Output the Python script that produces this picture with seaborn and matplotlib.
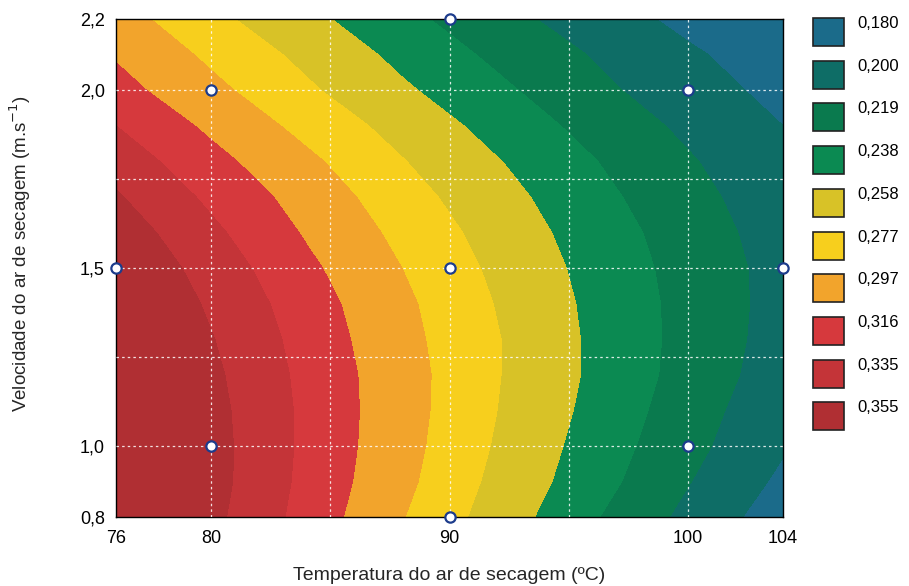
import matplotlib
matplotlib.use("Agg")
import matplotlib.pyplot as plt
import numpy as np
import pandas as pd
import seaborn as sns
from matplotlib.patches import Rectangle
from matplotlib.ticker import FixedLocator, MultipleLocator, FuncFormatter

temperatura = [76, 80, 84, 88, 92, 96, 100, 104]
velocidade = [0.8, 0.9, 1.0, 1.1, 1.2, 1.3, 1.4, 1.5, 1.6, 1.7, 1.8, 1.9, 2.0, 2.1, 2.2]
z_v08 = [0.373, 0.340, 0.309, 0.278, 0.249, 0.221, 0.195, 0.169]
z_v09 = [0.374, 0.342, 0.311, 0.282, 0.253, 0.227, 0.201, 0.176]
z_v10 = [0.373, 0.342, 0.312, 0.284, 0.256, 0.230, 0.206, 0.182]
z_v11 = [0.371, 0.341, 0.312, 0.285, 0.258, 0.233, 0.209, 0.186]
z_v12 = [0.369, 0.339, 0.311, 0.285, 0.259, 0.235, 0.212, 0.190]
z_v13 = [0.365, 0.336, 0.309, 0.283, 0.259, 0.235, 0.213, 0.192]
z_v14 = [0.359, 0.332, 0.306, 0.281, 0.257, 0.234, 0.213, 0.193]
z_v15 = [0.353, 0.327, 0.301, 0.277, 0.254, 0.232, 0.212, 0.193]
z_v16 = [0.346, 0.320, 0.295, 0.272, 0.250, 0.229, 0.210, 0.191]
z_v17 = [0.337, 0.312, 0.289, 0.266, 0.245, 0.225, 0.206, 0.189]
z_v18 = [0.327, 0.303, 0.281, 0.259, 0.239, 0.220, 0.202, 0.185]
z_v19 = [0.316, 0.293, 0.271, 0.251, 0.231, 0.213, 0.196, 0.180]
z_v20 = [0.304, 0.282, 0.261, 0.241, 0.223, 0.205, 0.189, 0.174]
z_v21 = [0.295, 0.273, 0.253, 0.233, 0.215, 0.199, 0.183, 0.169]
z_v22 = [0.285, 0.263, 0.243, 0.224, 0.207, 0.190, 0.175, 0.161]

# niveis da legenda e cores
niveis = [0.180, 0.200, 0.219, 0.238, 0.258, 0.277, 0.297, 0.316, 0.335, 0.355]
cores = ['#1b6b8a', '#0e6d66', '#0a7a4e', '#0b8a52', '#d8c227',
         '#f7cf1d', '#f2a42c', '#d6393d', '#c43438', '#b02f33']

# pontos experimentais do delineamento
pontos_temp = [80, 80, 100, 100, 76, 104, 90, 90, 90]
pontos_vel = [1.0, 2.0, 1.0, 2.0, 1.5, 1.5, 0.8, 2.2, 1.5]

grade_x = [80, 85, 90, 95, 100]
grade_y = [1.0, 1.25, 1.5, 1.75, 2.0]

sns.set_theme(style="white")
plt.rcParams['font.family'] = ['Liberation Sans', 'DejaVu Sans']

Z = np.array([z_v08, z_v09, z_v10, z_v11, z_v12, z_v13, z_v14, z_v15,
              z_v16, z_v17, z_v18, z_v19, z_v20, z_v21, z_v22])
X, Y = np.meshgrid(temperatura, velocidade)

fig = plt.figure(figsize=(9.09, 5.86), dpi=100)
ax = fig.add_axes([0.1276, 0.1177, 0.7338, 0.8499])

limites = [0.0] + niveis[:-1] + [1.0]
ax.contourf(X, Y, Z, levels=limites, colors=cores)

for gx in grade_x:
    ax.axvline(gx, color='white', lw=0.9, ls=(0, (2, 2.5)), alpha=0.85, zorder=3)
for gy in grade_y:
    ax.axhline(gy, color='white', lw=0.9, ls=(0, (2, 2.5)), alpha=0.85, zorder=3)

pts = pd.DataFrame({'temp': pontos_temp, 'vel': pontos_vel})
sns.scatterplot(data=pts, x='temp', y='vel', ax=ax, s=55, color='white',
                edgecolor='#1d3c8c', linewidth=1.6, zorder=6, clip_on=False)

ax.set_xlim(76, 104)
ax.set_ylim(0.8, 2.2)
ax.xaxis.set_major_locator(FixedLocator([76, 80, 90, 100, 104]))
ax.yaxis.set_major_locator(FixedLocator([0.8, 1.0, 1.5, 2.0, 2.2]))
ax.xaxis.set_minor_locator(MultipleLocator(1))
ax.yaxis.set_minor_locator(MultipleLocator(0.05))
ax.yaxis.set_major_formatter(FuncFormatter(lambda v, p: f"{v:.1f}".replace('.', ',')))
ax.tick_params(axis='both', which='both', direction='in', top=True, right=True,
               labelsize=13, colors='black')
ax.tick_params(axis='both', which='major', length=0)
ax.tick_params(axis='x', which='major', pad=9)
ax.tick_params(axis='y', which='major', pad=8)
ax.tick_params(axis='both', which='minor', length=3, width=0.8)
for s in ax.spines.values():
    s.set_color('black')
    s.set_linewidth(1.0)

ax.set_xlabel('Temperatura do ar de secagem (ºC)', fontsize=14, labelpad=15)
ax.set_ylabel('Velocidade do ar de secagem (m.s$^{-1}$)', fontsize=13.5)
ax.yaxis.set_label_coords(-0.125, 0.53)

# legenda em eixo proprio, em coordenadas de pixel
leg = fig.add_axes([800 / 909, 0, 109 / 909, 1])
leg.set_xlim(800, 909)
leg.set_ylim(586, 0)
leg.axis('off')
for k, (nv, c) in enumerate(zip(niveis, cores)):
    topo = 18 + 42.7 * k
    leg.add_patch(Rectangle((813, topo), 31, 28, facecolor=c,
                            edgecolor='#222222', lw=1.2))
    leg.text(857, topo - 2, f"{nv:.3f}".replace('.', ','), fontsize=12,
             va='top', ha='left', color='black')

fig.savefig('out.png', dpi=100)
